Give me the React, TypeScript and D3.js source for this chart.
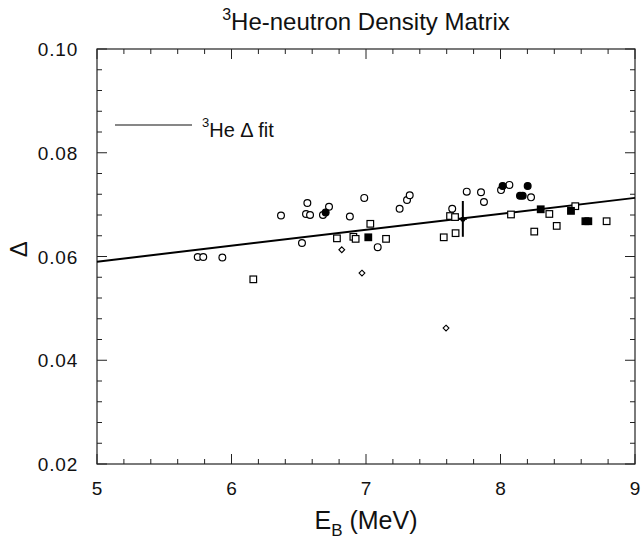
import React from "react";
import * as d3 from "d3";

// ---- data (E_B in MeV, Delta) ----
const openCircles: [number, number][] = [
  [5.749, 0.0599], [5.79, 0.0599], [5.932, 0.0598], [6.368, 0.0679],
  [6.524, 0.0626], [6.554, 0.0682], [6.564, 0.0703], [6.584, 0.068],
  [6.68, 0.068], [6.725, 0.0696], [6.88, 0.0677], [6.987, 0.0713],
  [7.087, 0.0618], [7.25, 0.0692], [7.305, 0.0709], [7.325, 0.0718],
  [7.641, 0.0692], [7.749, 0.0725], [7.855, 0.0724], [7.877, 0.0705],
  [8.004, 0.0728], [8.066, 0.0738], [8.227, 0.0714],
];
const filledCircles: [number, number][] = [
  [6.7, 0.0685], [8.016, 0.0736], [8.145, 0.0717], [8.165, 0.0717], [8.202, 0.0736],
];
const openSquares: [number, number][] = [
  [6.162, 0.0556], [6.784, 0.0635], [6.906, 0.0638], [6.923, 0.0634],
  [7.032, 0.0663], [7.149, 0.0634], [7.578, 0.0637], [7.625, 0.0678],
  [7.662, 0.0676], [7.666, 0.0645], [8.078, 0.0681], [8.251, 0.0648],
  [8.363, 0.0682], [8.418, 0.0659], [8.556, 0.0697], [8.789, 0.0668],
];
const filledSquares: [number, number][] = [
  [7.017, 0.0637], [8.299, 0.0691], [8.524, 0.0688], [8.631, 0.0668], [8.653, 0.0668],
];
const openDiamonds: [number, number][] = [
  [6.82, 0.0613], [6.97, 0.0568], [7.595, 0.0462],
];
const fitLine: [number, number][] = [[5, 0.059], [9, 0.0713]];
const errPoint = { e: 7.72, d: 0.0672, lo: 0.0638, hi: 0.0707 };

const xTicks = [5, 6, 7, 8, 9];
const yTicks = [0.02, 0.04, 0.06, 0.08, 0.1];
const yTickLabels = ["0.02", "0.04", "0.06", "0.08", "0.10"];

const W = 642, H = 541;
const L = 97, R = 635, T = 49, B = 464;

export default function App() {
  const x = d3.scaleLinear().domain([5, 9]).range([L, R]);
  const y = d3.scaleLinear().domain([0.02, 0.1]).range([B, T]);
  const xMinor = d3.range(5, 9.0001, 0.2);
  const yMinor = d3.range(0.02, 0.10001, 0.004);
  const line = d3.line<[number, number]>().x((d) => x(d[0])).y((d) => y(d[1]));
  const font = "'Liberation Sans', Arial, sans-serif";
  const ax = "#222";
  const isMajorX = (v: number) => Math.abs(v - Math.round(v)) < 1e-6;
  const isMajorY = (v: number) => Math.abs(v * 50 - Math.round(v * 50)) < 1e-6;
  const diamond = (cx: number, cy: number, r: number) =>
    `M${cx},${cy - r}L${cx + r},${cy}L${cx},${cy + r}L${cx - r},${cy}Z`;

  return (
    <svg width={W} height={H} style={{ position: "absolute", left: 0, top: 0, background: "#fff" }}
      fontFamily={font}>
      {/* frame */}
      <rect x={L} y={T} width={R - L} height={B - T} fill="none" stroke={ax} strokeWidth={1.2} />
      {/* x ticks bottom and top */}
      {xMinor.map((v, i) => {
        const len = isMajorX(v) ? 10 : 5;
        return (
          <g key={"xt" + i}>
            <line x1={x(v)} x2={x(v)} y1={B} y2={B - len} stroke={ax} strokeWidth={1} />
            <line x1={x(v)} x2={x(v)} y1={T} y2={T + len} stroke={ax} strokeWidth={1} />
          </g>
        );
      })}
      {yMinor.map((v, i) => {
        const len = isMajorY(v) ? 10 : 5;
        return (
          <g key={"yt" + i}>
            <line x1={L} x2={L + len} y1={y(v)} y2={y(v)} stroke={ax} strokeWidth={1} />
            <line x1={R} x2={R - len} y1={y(v)} y2={y(v)} stroke={ax} strokeWidth={1} />
          </g>
        );
      })}
      {/* tick labels */}
      {xTicks.map((v) => (
        <text key={"xl" + v} x={x(v)} y={B + 31} fontSize={19} textAnchor="middle" fill="#111">{v}</text>
      ))}
      {yTicks.map((v, i) => (
        <text key={"yl" + v} x={L - 19} y={y(v) + 7} fontSize={19} letterSpacing={0.8} textAnchor="end" fill="#111">{yTickLabels[i]}</text>
      ))}
      {/* axis titles */}
      <text x={366} y={529} fontSize={25} textAnchor="middle" fill="#111">
        E<tspan fontSize={17} dy={7}>B</tspan><tspan dy={-7}>{"  (MeV)"}</tspan>
      </text>
      <text transform={`translate(27,${y(0.0614)}) rotate(-90)`} fontSize={24} textAnchor="middle" fill="#111">Δ</text>
      <text x={366} y={30} fontSize={24} textAnchor="middle" fill="#111">
        <tspan fontSize={16} dy={-10}>3</tspan><tspan dy={10}>He-neutron Density Matrix</tspan>
      </text>
      {/* legend */}
      <line x1={115} x2={192} y1={125} y2={125} stroke="#111" strokeWidth={1.2} />
      <text x={202} y={137} fontSize={20} fill="#111">
        <tspan fontSize={13} dy={-10}>3</tspan><tspan dy={10}>{"He  Δ fit"}</tspan>
      </text>
      {/* fit line */}
      <path d={line(fitLine) || ""} fill="none" stroke="#000" strokeWidth={2} />
      {/* markers */}
      {openCircles.map((d, i) => (
        <circle key={"oc" + i} cx={x(d[0])} cy={y(d[1])} r={3.4} fill="#fff" stroke="#000" strokeWidth={1.2} />
      ))}
      {filledCircles.map((d, i) => (
        <circle key={"fc" + i} cx={x(d[0])} cy={y(d[1])} r={3.4} fill="#000" stroke="#000" strokeWidth={1.2} />
      ))}
      {openSquares.map((d, i) => (
        <rect key={"os" + i} x={x(d[0]) - 3.3} y={y(d[1]) - 3.3} width={6.6} height={6.6} fill="#fff" stroke="#000" strokeWidth={1.2} />
      ))}
      {filledSquares.map((d, i) => (
        <rect key={"fs" + i} x={x(d[0]) - 3.3} y={y(d[1]) - 3.3} width={6.6} height={6.6} fill="#000" stroke="#000" strokeWidth={1.2} />
      ))}
      {openDiamonds.map((d, i) => (
        <path key={"od" + i} d={diamond(x(d[0]), y(d[1]), 2.9)} fill="#fff" stroke="#000" strokeWidth={1.1} />
      ))}
      {/* error bar point */}
      <line x1={x(errPoint.e)} x2={x(errPoint.e)} y1={y(errPoint.lo)} y2={y(errPoint.hi)} stroke="#000" strokeWidth={2} />
      <line x1={x(errPoint.e) - 4} x2={x(errPoint.e) + 4} y1={y(errPoint.d)} y2={y(errPoint.d)} stroke="#000" strokeWidth={1.5} />
      <circle cx={x(errPoint.e)} cy={y(errPoint.d)} r={2.5} fill="#000" />
    </svg>
  );
}
